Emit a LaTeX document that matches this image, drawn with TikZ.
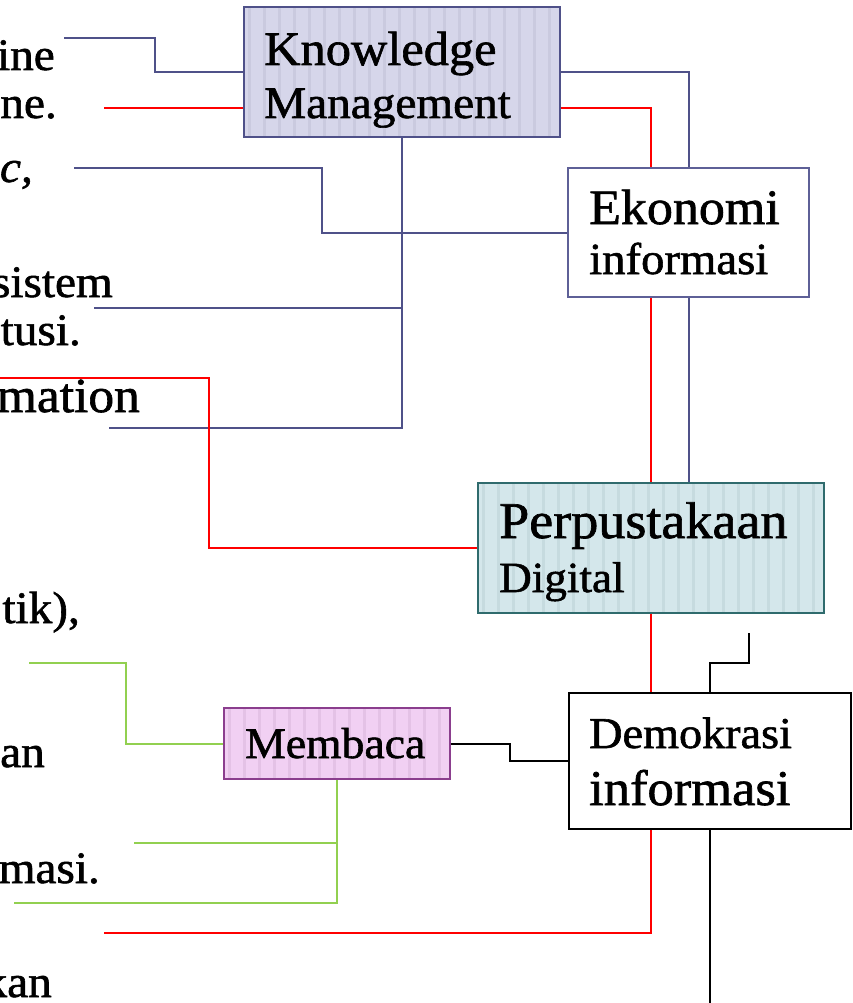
\documentclass[tikz,border=0pt]{standalone}
\usepackage{fontspec}
\setmainfont{Liberation Serif}[FakeStretch=1.05,FakeBold=1.3]
\usetikzlibrary{backgrounds}

\definecolor{kmfill}{HTML}{D6D6EA}
\definecolor{kmstripe}{HTML}{CACADF}
\definecolor{navyline}{HTML}{4F5189}
\definecolor{ekoborder}{HTML}{5E6097}
\definecolor{perpfill}{HTML}{D4E7EB}
\definecolor{perpstripe}{HTML}{C6DBDF}
\definecolor{tealborder}{HTML}{2F6B6D}
\definecolor{memfill}{HTML}{F1D0F3}
\definecolor{memstripe}{HTML}{E4C2E6}
\definecolor{memborder}{HTML}{8B3E8E}
\definecolor{leafgreen}{HTML}{92D050}
\definecolor{linkred}{HTML}{FF0000}

\begin{document}
\begin{tikzpicture}[x=1pt,y=-1pt,
  striped/.style={path picture={
    \foreach \k in {0,...,30}{
      \draw[draw=#1, line width=3pt]
        ([xshift=5pt+\k*15pt]path picture bounding box.north west) --
        ([xshift=5pt+\k*15pt]path picture bounding box.south west);
    }}},
  box/.style={draw, line width=2.5pt, inner sep=0pt},
  boxtext/.style={inner sep=0pt, anchor=base west, font=\fontsize{#1}{#1}\selectfont},
  sidetext/.style={inner sep=0pt, anchor=base east, font=\fontsize{#1}{#1}\selectfont},
  navy/.style={draw=navyline, line width=2pt},
  redlink/.style={draw=linkred, line width=2pt},
  greenlink/.style={draw=leafgreen, line width=2pt},
  blacklink/.style={draw=black, line width=2pt},
]
\useasboundingbox (0,0) rectangle (852,1003);
\clip (0,0) rectangle (852,1003);

% ---- boxes ----
\node[box, draw=navyline, fill=kmfill, striped=kmstripe,
      minimum width=316pt, minimum height=130pt] (km) at (402,72) {};
\node[box, draw=ekoborder, fill=white,
      minimum width=241pt, minimum height=129pt] (eko) at (688.5,232.5) {};
\node[box, draw=tealborder, fill=perpfill, striped=perpstripe,
      minimum width=346pt, minimum height=130pt] (perp) at (651,548) {};
\node[box, draw=memborder, fill=memfill, striped=memstripe,
      minimum width=226pt, minimum height=71pt] (mem) at (337,743.5) {};
\node[box, draw=black, fill=white,
      minimum width=282pt, minimum height=136pt] (demo) at (710,761) {};

% ---- box labels ----
\node[boxtext=48] (kmA) at (264,65) {Knowledge};
\node[boxtext=45] (kmB) at (264,118) {Management};
\node[boxtext=49.5] (ekoA) at (589,224) {Ekonomi};
\node[boxtext=44.5] (ekoB) at (589,274) {informasi};
\node[boxtext=51.5] (perpA) at (499,538) {Perpustakaan};
\node[boxtext=43] (perpB) at (499,592) {Digital};
\node[boxtext=43.5] (memA) at (245,758) {Membaca};
\node[boxtext=44] (demoA) at (589,748) {Demokrasi};
\node[boxtext=50] (demoB) at (589,805) {informasi};

% ---- text fragments on the left ----
\node[sidetext=45] (t1) at (55,70) {ine};
\node[sidetext=45] (t2) at (57,118) {ne.};
\node[sidetext=45] (t3) at (33,182) {\itshape ic,};
\node[sidetext=45] (t4) at (113,297) {sistem};
\node[sidetext=45] (t5) at (81,345) {tusi.};
\node[sidetext=49] (t6) at (140,412) {mation};
\node[sidetext=45] (t7) at (80,623) {tik),};
\node[sidetext=45] (t8) at (45,767) {an};
\node[sidetext=45] (t9) at (100,883) {masi.};
\node[sidetext=45] (t10) at (52,997) {kan};

% ---- free ends of connectors ----
\coordinate (b1) at (64,38);
\coordinate (b2) at (74,168);
\coordinate (b3) at (94,308);
\coordinate (b4) at (109,428);
\coordinate (r1) at (104,108);
\coordinate (r2) at (-5,378);
\coordinate (r3) at (104,933);
\coordinate (g1) at (29,663);
\coordinate (g2) at (134,843);
\coordinate (g3) at (14,903);
\coordinate (k1) at (749,633);
\coordinate (k2) at (710,1010);

\begin{scope}[on background layer]
  % Knowledge Management
  \draw[navy] (km.west) -| (155,38) -- (b1);
  \draw[redlink] ([yshift=-36pt]km.west) -- (r1);
  \draw[navy] (km.south) |- (b4);
  \draw[navy] (km.south |- b3) -- (b3);
  \draw[navy] (km.east) -| (eko.north);
  % Ekonomi informasi
  \draw[navy] (eko.west) -| (322,168) -- (b2);
  \draw[navy] (eko.south) -- (eko.south |- perp.north);
  % red trunk
  \draw[redlink] ([yshift=-36pt]km.east) -| (perp.north);
  \draw[redlink] (perp.south) |- (r3);
  \draw[redlink] (perp.west) -| (209,378) -- (r2);
  % Membaca
  \draw[greenlink] (mem.west) -| (126,663) -- (g1);
  \draw[greenlink] (mem.south) |- (g3);
  \draw[greenlink] (mem.south |- g2) -- (g2);
  \draw[blacklink] (mem.east) -| (510,761) -- (demo.west);
  % Demokrasi informasi
  \draw[blacklink] (demo.north) |- (749,663) -- (k1);
  \draw[blacklink] (demo.south) -- (demo.south |- k2);
\end{scope}
\end{tikzpicture}
\end{document}
